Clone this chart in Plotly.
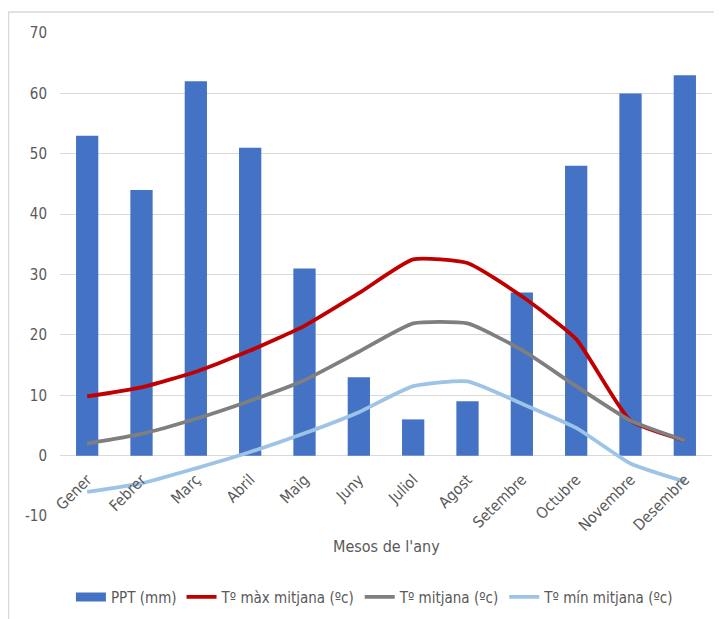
import plotly.graph_objects as go

mesos = ["Gener", "Febrer", "Març", "Abril", "Maig", "Juny", "Juliol", "Agost",
         "Setembre", "Octubre", "Novembre", "Desembre"]
ppt = [53, 44, 62, 51, 31, 13, 6, 9, 27, 48, 60, 63]
tmax = [9.8, 11.3, 13.9, 17.4, 21.5, 26.9, 32.5, 31.9, 26.4, 19.3, 5.8, 2.5]
tmitj = [2.0, 3.6, 6.1, 9.1, 12.5, 17.2, 21.9, 21.9, 17.5, 11.5, 5.8, 2.5]
tmin = [-6.0, -4.6, -2.1, 0.6, 3.7, 7.2, 11.5, 12.3, 8.6, 4.6, -1.3, -4.3]

names = ["PPT (mm)", "Tº màx mitjana (ºc)", "Tº mitjana (ºc)", "Tº mín mitjana (ºc)"]
yticks = [-10, 0, 10, 20, 30, 40, 50, 60, 70]
yticklabels = ["-10", "0", "10", "20", "30", "40", "50", "60", "70"]
xtitle = "Mesos de l'any"
YMIN, YMAX = -10, 70

FONT = "Liberation Sans Narrow, DejaVu Sans Condensed, Roboto Condensed, Liberation Sans"
TXT = "#595959"
BLUE = "#4472C4"

fig = go.Figure()
fig.add_trace(go.Bar(x=mesos, y=ppt, name=names[0], marker_color=BLUE,
                     marker_line_width=0, showlegend=False))
# legend stand-in for the bar series (wide rectangle swatch)
fig.add_trace(go.Scatter(x=[None], y=[None], name=names[0], mode="lines",
                         line=dict(color=BLUE, width=9)))
for vals, nm, col in [(tmax, names[1], "#C00000"), (tmitj, names[2], "#7F7F7F"),
                      (tmin, names[3], "#9DC3E6")]:
    fig.add_trace(go.Scatter(x=mesos, y=vals, name=nm, mode="lines",
                             line=dict(color=col, width=3.8, shape="spline", smoothing=0.5)))

fig.add_annotation(text=xtitle, xref="paper", yref="paper", x=0.5, y=-0.064,
                   xanchor="center", yanchor="middle", showarrow=False,
                   font=dict(size=16, color=TXT, family=FONT))

# category axis crosses the value axis at 0 (as in the original)
zero_pos = (0 - YMIN) / (YMAX - YMIN)

fig.update_layout(
    width=714, height=611,
    margin=dict(l=52, r=10, t=25, b=103, autoexpand=False),
    paper_bgcolor="white", plot_bgcolor="white",
    font=dict(family=FONT, color=TXT, size=14),
    bargap=0.59,
    showlegend=True,
    legend=dict(orientation="h", x=0.483, xanchor="center", y=-0.168, yanchor="middle",
                font=dict(size=15, color=TXT, family=FONT), itemwidth=30,
                traceorder="normal"),
    xaxis=dict(tickangle=-45, tickfont=dict(size=15.5, color=TXT), automargin=False,
               anchor="free", position=zero_pos, ticklabelstandoff=11,
               showgrid=False, showline=False, ticks="", range=[-0.5, 11.5]),
    yaxis=dict(range=[YMIN, YMAX], tickmode="array", tickvals=yticks, ticktext=yticklabels,
               showgrid=True, gridcolor="#D9D9D9", gridwidth=1.3,
               zeroline=True, zerolinecolor="#D9D9D9", zerolinewidth=1.3, automargin=False,
               tickfont=dict(size=15, color=TXT), ticks="", ticklabelstandoff=12),
    shapes=[dict(type="rect", xref="paper", yref="paper", x0=-0.079, x1=1.2,
                 y0=-0.5, y1=1.0435, line=dict(color="#D9D9D9", width=1.5),
                 fillcolor="rgba(0,0,0,0)", layer="below")],
)

fig.write_html("out.html")
